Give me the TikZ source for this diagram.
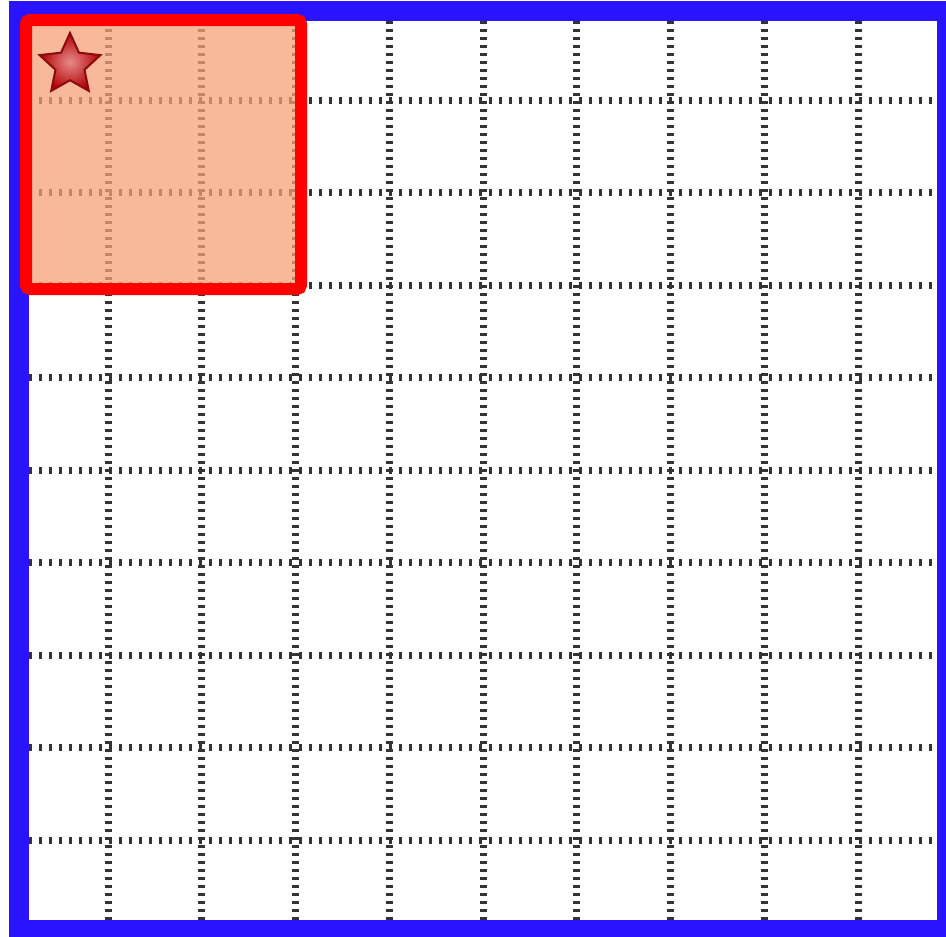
\documentclass[tikz,border=0pt]{standalone}
\usepackage{tikz}
\usetikzlibrary{shapes.geometric}

\definecolor{framecol}{RGB}{42,20,255}
\definecolor{boxred}{RGB}{255,0,0}
\definecolor{boxfill}{RGB}{245,160,120}
\definecolor{stardark}{RGB}{140,10,15}

\tikzset{
  gridh/.style={line width=7pt,black!80,dash pattern=on 2.6pt off 7.4pt},
  gridv/.style={line width=7pt,black!80,dash pattern=on 2.6pt off 5.4pt},
  outerframe/.style={framecol,line width=20pt},
  pickbox/.style={boxred,line width=12pt,rounded corners=4pt,fill=boxfill,fill opacity=0.75},
  starmark/.style={star,star points=5,star point ratio=2.1,minimum size=64pt,
    inner sep=0pt,draw=stardark,line width=2pt,inner color=red!40!white!90!black,outer color=red!70!black}
}

\begin{document}
\begin{tikzpicture}[x=1pt,y=-1pt]
  \useasboundingbox (0,0) rectangle (946,937);
  % dotted grid
  \foreach \i in {0,...,8} {
    \draw[gridv] (108+93.75*\i,21) -- (108+93.75*\i,920);
    \draw[gridh] (29,100+92.5*\i) -- (937,100+92.5*\i);
  }
  % outer frame
  \draw[outerframe] (19,11) rectangle (947,930);
  % selected block
  \draw[pickbox] (26,20) rectangle (301,289);
  \node[starmark] (mark) at (70,65) {};
\end{tikzpicture}
\end{document}
